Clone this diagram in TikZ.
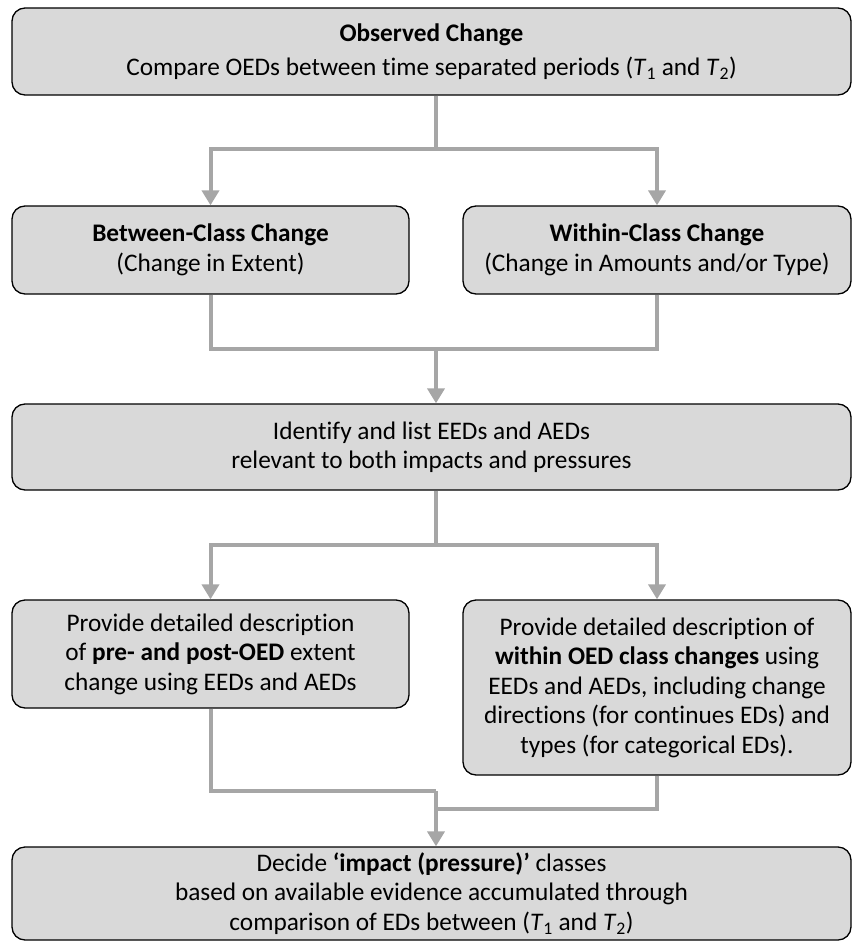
\documentclass[tikz,border=0pt]{standalone}
\usepackage{fontspec}
\setmainfont{Carlito}[Ligatures=NoCommon]
\usetikzlibrary{arrows.meta}
\definecolor{boxfill}{HTML}{D9D9D9}
\definecolor{linkgray}{HTML}{A6A6A6}
\begin{document}
\begin{tikzpicture}[
        x=1pt, y=-1pt,
        box/.style={
            rectangle,
            rounded corners=13pt,
            draw,
            line width=1.3pt,
            fill=boxfill,
            align=center,
            inner sep=0pt,
            font=\fontsize{25.3}{29.5}\selectfont
        },
        link/.style={
            draw=linkgray,
            line width=4pt
        },
        >={Triangle[width=17pt,length=15pt]}
    ]
    \useasboundingbox (0,0) rectangle (863,942);

    % Main boxes
    \node[box, minimum width=839pt, minimum height=87pt] (obs) at (431.5,51.5)
        {\textbf{Observed Change}\\[5pt]Compare OEDs between time separated periods (\textit{T}\textsubscript{1} and \textit{T}\textsubscript{2})};
    \node[box, minimum width=397pt, minimum height=88pt] (between) at (210.5,250)
        {\textbf{Between-Class Change}\\(Change in Extent)};
    \node[box, minimum width=388pt, minimum height=88pt] (within) at (657,250)
        {\textbf{Within-Class Change}\\(Change in Amounts and/or Type)};
    \node[box, minimum width=839pt, minimum height=86pt] (identify) at (431.5,447)
        {Identify and list EEDs and AEDs\\relevant to both impacts and pressures};
    \node[box, minimum width=397pt, minimum height=108pt] (extent) at (210.5,654)
        {Provide detailed description\\of \textbf{pre- and post-OED} extent\\change using EEDs and AEDs};
    \node[box, minimum width=388pt, minimum height=175pt] (classchg) at (657,687.5)
        {Provide detailed description of\\\textbf{within OED class changes} using\\EEDs and AEDs, including change\\directions (for continues EDs) and\\types (for categorical EDs).};
    \node[box, minimum width=839pt, minimum height=93pt] (decide) at (431.5,893.5)
        {Decide \textbf{‘impact (pressure)’} classes\\based on available evidence accumulated through\\comparison of EDs between (\textit{T}\textsubscript{1} and \textit{T}\textsubscript{2})};

    % Junction points
    \coordinate (split1) at (436,149);
    \coordinate (merge1) at (436,349);
    \coordinate (split2) at (436,545);
    \coordinate (merge2) at (436,791);
    \coordinate (merge3) at (436,809);

    % Connections
    \draw[link] (obs.south -| split1) -- (split1);
    \draw[link,->] (split1) -| (between.north);
    \draw[link,->] (split1) -| (within.north);

    \draw[link] (between.south) |- (merge1);
    \draw[link] (within.south) |- (merge1);
    \draw[link,->] (merge1) -- (identify.north -| merge1);

    \draw[link] (identify.south -| split2) -- (split2);
    \draw[link,->] (split2) -| (extent.north);
    \draw[link,->] (split2) -| (classchg.north);

    \draw[link] (extent.south) |- (merge2);
    \draw[link] (classchg.south) |- (merge3);
    \draw[link,->] (merge2) -- (decide.north -| merge2);

\end{tikzpicture}
\end{document}
